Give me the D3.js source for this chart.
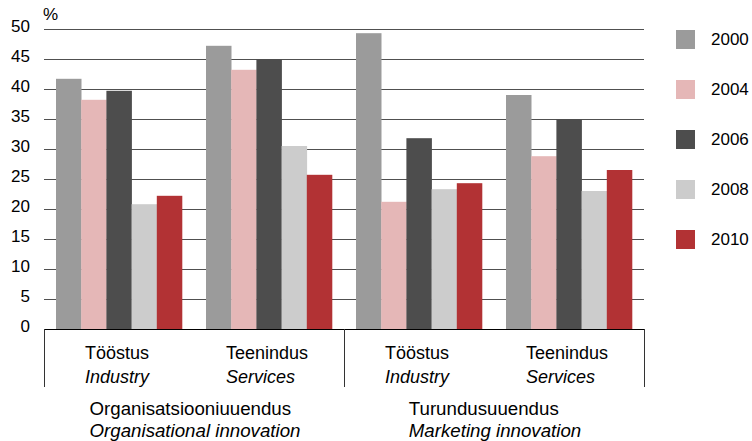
<!DOCTYPE html>
<html>
<head>
<meta charset="utf-8">
<script src="https://cdn.jsdelivr.net/npm/d3@7"></script>
<style>
  body { margin: 0; background: #fff; }
  svg { display: block; font-family: "Liberation Sans", Arial, sans-serif; }
</style>
</head>
<body>
<div id="chart"></div>
<script>
// categories and their two-line labels (Estonian / English)
var categories = ["org_ind", "org_ser", "mkt_ind", "mkt_ser"];
var catLabelsEt = ["Tööstus", "Teenindus", "Tööstus", "Teenindus"];
var catLabelsEn = ["Industry", "Services", "Industry", "Services"];
var groupLabelsEt = ["Organisatsiooniuuendus", "Turundusuuendus"];
var groupLabelsEn = ["Organisational innovation", "Marketing innovation"];

var years = ["2000", "2004", "2006", "2008", "2010"];
var s2000 = [41.7, 47.2, 49.3, 39.0];
var s2004 = [38.2, 43.2, 21.2, 28.8];
var s2006 = [39.7, 45.0, 31.8, 35.0];
var s2008 = [20.8, 30.5, 23.3, 23.0];
var s2010 = [22.2, 25.7, 24.3, 26.5];
var yTicks = [0, 5, 10, 15, 20, 25, 30, 35, 40, 45, 50];

var seriesColors = ["#9b9b9b", "#e5b7b7", "#4d4d4d", "#cccccc", "#b23234"];

var series = [s2000, s2004, s2006, s2008, s2010];

var width = 752, height = 441;
var plot = { left: 44, right: 644, top: 29, bottom: 329 };

var svg = d3.select("#chart").append("svg")
    .attr("width", width)
    .attr("height", height);

var x0 = d3.scaleBand()
    .domain(categories)
    .range([plot.left, plot.right])
    .paddingInner(0.16)
    .paddingOuter(0.08);

var x1 = d3.scaleBand()
    .domain(years)
    .range([0, x0.bandwidth()]);

var y = d3.scaleLinear()
    .domain([0, 50])
    .range([plot.bottom, plot.top]);

// gridlines
svg.append("g")
  .selectAll("line")
  .data(yTicks.filter(function(d) { return d > 0; }))
  .enter().append("line")
    .attr("x1", plot.left)
    .attr("x2", plot.right)
    .attr("y1", function(d) { return Math.round(y(d)) + 0.5; })
    .attr("y2", function(d) { return Math.round(y(d)) + 0.5; })
    .attr("stroke", "#505050")
    .attr("stroke-width", 1.2);

// y tick labels
svg.append("g")
  .selectAll("text")
  .data(yTicks)
  .enter().append("text")
    .attr("x", 30)
    .attr("y", function(d) { return y(d) + 3; })
    .attr("text-anchor", "end")
    .attr("font-size", 17)
    .attr("fill", "#000")
    .text(function(d) { return d; });

svg.append("text")
  .attr("x", 43)
  .attr("y", 20)
  .attr("font-size", 17)
  .text("%");

// bars
var rows = categories.map(function(c, i) {
  return years.map(function(yr, j) {
    return { cat: c, year: yr, value: series[j][i], color: seriesColors[j] };
  });
});

svg.append("g")
  .selectAll("g")
  .data(rows)
  .enter().append("g")
    .attr("transform", function(d, i) { return "translate(" + x0(categories[i]) + ",0)"; })
  .selectAll("rect")
  .data(function(d) { return d; })
  .enter().append("rect")
    .attr("x", function(d) { return x1(d.year); })
    .attr("width", x1.bandwidth() + 0.3)
    .attr("y", function(d) { return y(d.value); })
    .attr("height", function(d) { return y(0) - y(d.value); })
    .attr("fill", function(d) { return d.color; });

// bottom axis line and separators
svg.append("line")
  .attr("x1", plot.left).attr("x2", plot.right)
  .attr("y1", plot.bottom + 0.5).attr("y2", plot.bottom + 0.5)
  .attr("stroke", "#000").attr("stroke-width", 1);

var seps = [plot.left, (plot.left + plot.right) / 2, plot.right];
svg.append("g")
  .selectAll("line")
  .data(seps)
  .enter().append("line")
    .attr("x1", function(d) { return d + 0.5; })
    .attr("x2", function(d) { return d + 0.5; })
    .attr("y1", plot.bottom)
    .attr("y2", 387)
    .attr("stroke", "#333")
    .attr("stroke-width", 1);

// two-line label blocks, centered with lines left aligned
function labelBlock(cx, y1, y2, l1, l2, size) {
  var g = svg.append("g");
  var t1 = g.append("text").attr("y", y1).attr("font-size", size).text(l1);
  var t2 = g.append("text").attr("y", y2).attr("font-size", size)
      .attr("font-style", "italic").text(l2);
  var w = Math.max(t1.node().getComputedTextLength(), t2.node().getComputedTextLength());
  t1.attr("x", cx - w / 2);
  t2.attr("x", cx - w / 2);
}

categories.forEach(function(c, i) {
  labelBlock(x0(c) + x0.bandwidth() / 2 - 2, 359, 383, catLabelsEt[i], catLabelsEn[i], 18);
});

groupLabelsEt.forEach(function(l, i) {
  var cx = (seps[i] + seps[i + 1]) / 2;
  labelBlock(cx + 1, 415, 437, l, groupLabelsEn[i], 18.7);
});

// legend
var legend = svg.append("g")
  .selectAll("g")
  .data(years)
  .enter().append("g")
    .attr("transform", function(d, i) { return "translate(676," + (30 + i * 50) + ")"; });

legend.append("rect")
  .attr("width", 19)
  .attr("height", 19)
  .attr("fill", function(d, i) { return seriesColors[i]; });

legend.append("text")
  .attr("x", 35)
  .attr("y", 15)
  .attr("font-size", 17)
  .text(function(d) { return d; });
</script>
</body>
</html>
